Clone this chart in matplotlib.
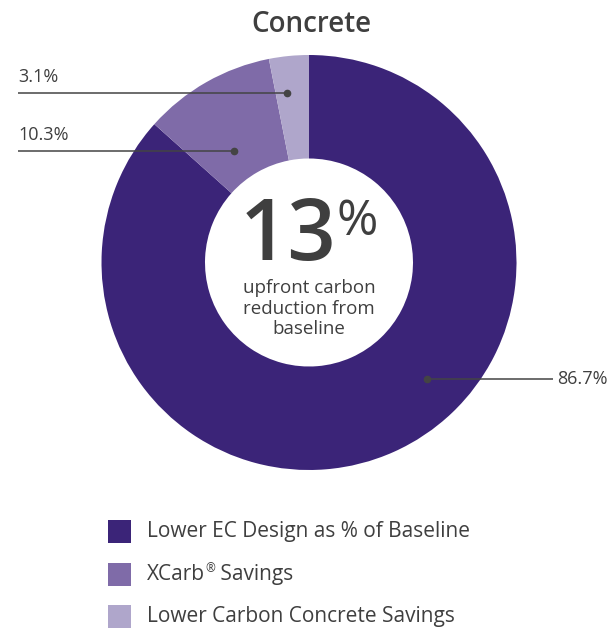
import matplotlib
matplotlib.use("Agg")
import matplotlib.pyplot as plt
from matplotlib.patches import Rectangle

plt.rcParams['font.family'] = ['Open Sans', 'DejaVu Sans']

title = "Concrete"
categories = ["Lower EC Design as % of Baseline", "XCarb\u00ae Savings", "Lower Carbon Concrete Savings"]
values = [86.7, 10.3, 3.1]
colors = ["#3b2478", "#7f6ba8", "#afa6cb"]
center_value = "13"
center_caption = ["upfront carbon", "reduction from", "baseline"]

W, H = 615, 632
text_color = "#3f3f3f"

fig = plt.figure(figsize=(W / 100, H / 100), dpi=100)
ax = fig.add_axes([0, 0, 1, 1])

cx, cy = 309, H - 262.5
r_out, r_in = 207.5, 104
ax.pie(values, colors=colors, startangle=90, counterclock=False,
       center=(cx, cy), radius=r_out,
       wedgeprops=dict(width=r_out - r_in, linewidth=0))
ax.set_xlim(0, W)
ax.set_ylim(0, H)
ax.set_aspect('equal')
ax.axis('off')

ax.text(311, H - 24, title, ha='center', va='center', fontsize=20,
        fontweight='semibold', color=text_color)

# centre figure
ax.text(288, H - 238, center_value, ha='center', va='center', fontsize=61,
        fontweight='semibold', color=text_color)
ax.text(357, H - 222, "%", ha='center', va='center', fontsize=36,
        color=text_color)
for i, line in enumerate(center_caption):
    ax.text(cx, H - 288 - i * 20.5, line, ha='center', va='center',
            fontsize=13.5, color=text_color)

# leader lines with value labels
leaders = [
    (values[2], (287, 92.5), (18, 92.5), 'left'),
    (values[1], (234, 151), (18, 151), 'left'),
    (values[0], (427, 379), (553, 379), 'right'),
]
for val, (dx, dy), (ex, ey), side in leaders:
    ax.plot([dx, ex], [H - dy, H - ey], color="#444444", lw=1.1,
            solid_capstyle='butt')
    ax.plot([dx], [H - dy], 'o', color="#444444", markersize=4.5)
    label = f"{val:.1f}%"
    if side == 'left':
        ax.text(ex, H - ey + 15.5, label, ha='left', va='center',
                fontsize=13, color=text_color)
    else:
        ax.text(ex + 4, H - ey, label, ha='left', va='center',
                fontsize=13, color=text_color)

# legend; the registered mark is set as a small raised glyph
renderer = fig.canvas.get_renderer()
for i, (name, c) in enumerate(zip(categories, colors)):
    y = 531.5 + i * 42.6
    ax.add_patch(Rectangle((108, H - y - 11.5), 23, 23, color=c, lw=0))
    if "\u00ae" in name:
        head, tail = name.split("\u00ae")
        t = ax.text(147, H - y, head, ha='left', va='center', fontsize=15,
                    color=text_color)
        x1 = t.get_window_extent(renderer).x1
        m = ax.text(x1 + 0.5, H - y + 6, "\u00ae", ha='left', va='center',
                    fontsize=8.5, color=text_color)
        x2 = m.get_window_extent(renderer).x1
        ax.text(x2, H - y, tail, ha='left', va='center', fontsize=15,
                color=text_color)
    else:
        ax.text(147, H - y, name, ha='left', va='center', fontsize=15,
                color=text_color)

fig.savefig("out.png", dpi=100)
